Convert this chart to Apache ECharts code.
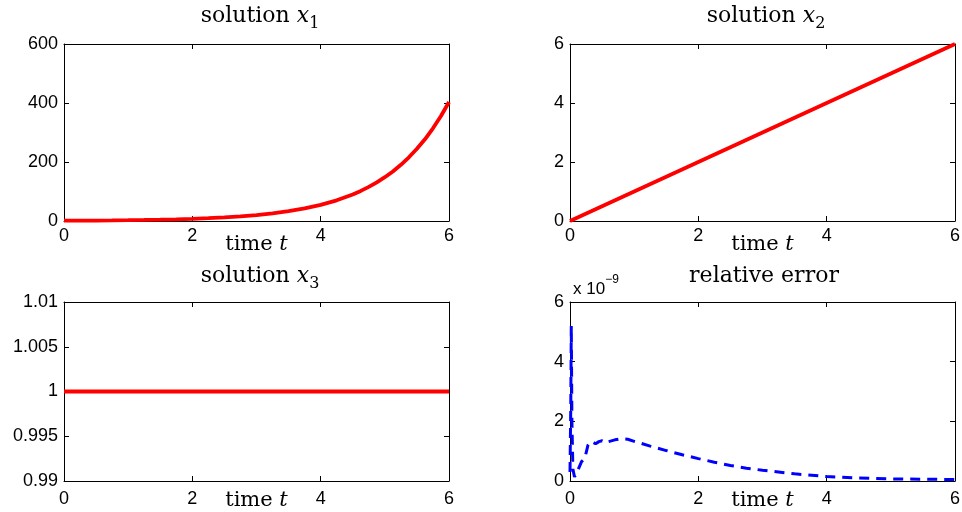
<!DOCTYPE html>
<html>
<head>
<meta charset="utf-8">
<script src="https://cdn.jsdelivr.net/npm/echarts@6/dist/echarts.min.js"></script>
<style>
html,body{margin:0;padding:0;background:#fff;}
#c{width:962px;height:512px;}
</style>
</head>
<body>
<div id="c"></div>
<script>
// ---- data ----
const x1T = [0,0.25,0.5,0.75,1,1.25,1.5,1.75,2,2.25,2.5,2.75,3,3.25,3.5,3.75,4,4.25,4.5,4.625,4.75,4.875,5,5.125,5.25,5.375,5.5,5.625,5.75,5.875,6];
const x1V = [1,1.3,1.6,2.1,2.7,3.5,4.5,5.8,7.4,9.5,12.2,15.6,20.1,25.8,33.1,42.5,54.6,70.1,90,102,115.6,131,148.4,168,190.6,216,244.7,277,314.2,356,403.4];
const x2T = [0,1,2,3,4,5,6];
const x2V = [0,1,2,3,4,5,6];
const x3T = [0,1,2,3,4,5,6];
const x3V = [1,1,1,1,1,1,1];
// relative error, in units of 1e-9
const errT = [0,0.012,0.02,0.03,0.045,0.07,0.1,0.14,0.18,0.23,0.28,0.33,0.4,0.45,0.5,0.55,0.6,0.7,0.8,0.9,1.0,1.25,1.5,1.75,2.0,2.25,2.5,2.75,3.0,3.5,4.0,4.5,5.0,5.5,6.0];
const errV = [0.3,2.5,5.2,2.0,0.4,0.14,0.25,0.45,0.65,0.75,1.2,1.33,1.25,1.32,1.35,1.28,1.32,1.38,1.42,1.4,1.33,1.17,1.02,0.88,0.75,0.63,0.52,0.43,0.36,0.24,0.15,0.1,0.07,0.06,0.05];

const xTicks = {min:0, max:6, interval:2};
const yTicks = [
  {min:0, max:600, interval:200},
  {min:0, max:6, interval:2},
  {min:0.99, max:1.01, interval:0.005},
  {min:0, max:6, interval:2}
];

// ---- layout ----
const grids = [
  {left:64, top:44, width:385, height:177},
  {left:570, top:44, width:385, height:177},
  {left:64, top:302, width:385, height:179},
  {left:570, top:302, width:385, height:179}
].map(g => Object.assign(g, {outerBoundsMode:'none', containLabel:false}));

const serif = 'DejaVu Serif';
const sans = 'Liberation Sans';

const titleRich = {
  r:{fontFamily:serif, fontWeight:'normal', fontSize:22, color:'#000', verticalAlign:'bottom', padding:[0,0,5,0]},
  i:{fontFamily:serif, fontWeight:'normal', fontStyle:'italic', fontSize:22, color:'#000', verticalAlign:'bottom', padding:[0,0,5,0]},
  s:{fontFamily:serif, fontWeight:'normal', fontSize:16, color:'#000', verticalAlign:'bottom'}
};

const xAxes = [], yAxes = [];
grids.forEach((g, gi) => {
  const yt = yTicks[gi];
  const bottomRow = gi >= 2;
  const common = {
    type:'value', gridIndex:gi,
    axisLine:{show:true, onZero:false, lineStyle:{color:'#000', width:1}},
    axisTick:{show:true, inside:true, length:5, lineStyle:{color:'#000', width:1}},
    splitLine:{show:false}
  };
  xAxes.push(Object.assign({}, common, {
    position:'bottom', min:xTicks.min, max:xTicks.max, interval:xTicks.interval,
    axisLabel:{color:'#000', fontFamily:sans, fontSize:18, margin: bottomRow ? 9 : 6},
    name:'{r|time }{i|t}', nameLocation:'middle', nameGap: bottomRow ? 9 : 13, nameMoveOverlap:false,
    nameTextStyle:{rich:{
      r:{fontFamily:serif, fontSize:21, color:'#000'},
      i:{fontFamily:serif, fontStyle:'italic', fontSize:21, color:'#000'}
    }}
  }));
  xAxes.push(Object.assign({}, common, {
    position:'top', min:xTicks.min, max:xTicks.max, interval:xTicks.interval,
    axisLabel:{show:false}
  }));
  const yLeft = Object.assign({}, common, {
    position:'left', min:yt.min, max:yt.max, interval:yt.interval,
    axisLabel:{color:'#000', fontFamily:sans, fontSize:18, margin:6,
      formatter: v => String(parseFloat(v.toFixed(4)))}
  });
  if (gi === 3) {
    yLeft.name = '{a|x 10}{b|−9}';
    yLeft.nameLocation = 'end';
    yLeft.nameGap = 4;
    yLeft.nameMoveOverlap = false;
    yLeft.nameTextStyle = {align:'left', verticalAlign:'bottom', padding:[0,0,0,3], rich:{
      a:{fontFamily:sans, fontSize:17, color:'#000', verticalAlign:'top', padding:[7,0,0,0]},
      b:{fontFamily:sans, fontSize:12, color:'#000', verticalAlign:'top'}
    }};
  }
  yAxes.push(yLeft);
  yAxes.push(Object.assign({}, common, {
    position:'right', min:yt.min, max:yt.max, interval:yt.interval,
    axisLabel:{show:false}
  }));
});

const titles = [
  {text:'{r|solution }{i|x}{s|1}', cx:260},
  {text:'{r|solution }{i|x}{s|2}', cx:766},
  {text:'{r|solution }{i|x}{s|3}', cx:260},
  {text:'{r|relative error}', cx:764}
].map((t, i) => ({
  text:t.text, left:t.cx, top: i < 2 ? 5 : 265, textAlign:'center',
  padding:0,
  textStyle:{fontWeight:'normal', rich:titleRich}
}));

const red = {color:'#ff0000', width:3.8};
const zip = (a, b) => a.map((t, i) => [t, b[i]]);

const option = {
  backgroundColor:'#fff',
  animation:false,
  title:titles,
  grid:grids,
  xAxis:xAxes,
  yAxis:yAxes,
  series:[
    {type:'line', xAxisIndex:0, yAxisIndex:0, data:zip(x1T, x1V), showSymbol:false, lineStyle:red},
    {type:'line', xAxisIndex:2, yAxisIndex:2, data:zip(x2T, x2V), showSymbol:false, lineStyle:red},
    {type:'line', xAxisIndex:4, yAxisIndex:4, data:zip(x3T, x3V), showSymbol:false, lineStyle:red},
    {type:'line', xAxisIndex:6, yAxisIndex:6, data:zip(errT, errV), showSymbol:false,
     lineStyle:{color:'#0000ff', width:3, type:[10,7]}}
  ]
};

const chart = echarts.init(document.getElementById('c'), null, {renderer:'canvas'});
chart.setOption(option);
</script>
</body>
</html>
